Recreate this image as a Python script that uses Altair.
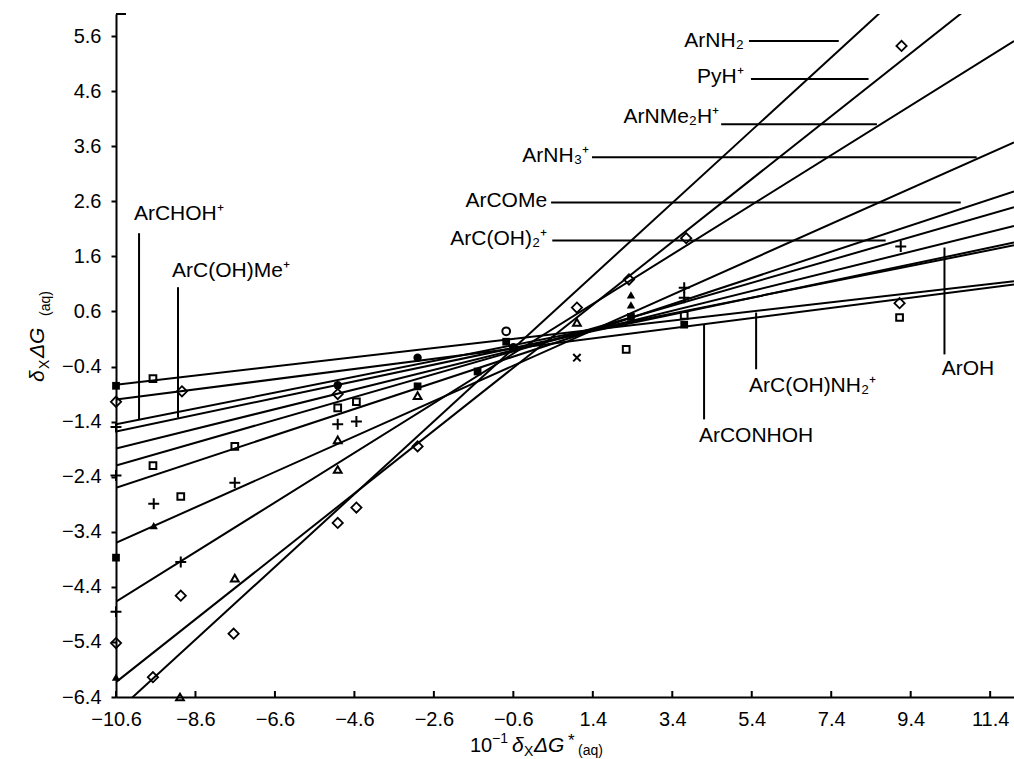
import altair as alt
import pandas as pd

X_MIN, X_MAX = -10.6, 12.0
Y_MIN, Y_MAX = -6.4, 6.0

x_ticks = [-10.6, -8.6, -6.6, -4.6, -2.6, -0.6, 1.4, 3.4, 5.4, 7.4, 9.4, 11.4]
y_ticks = [-6.4, -5.4, -4.4, -3.4, -2.4, -1.4, -0.4, 0.6, 1.6, 2.6, 3.6, 4.6, 5.6]

# regression lines: value at x = X_MIN and at x = X_MAX
line_names = ["ArNH2", "PyH+", "ArNMe2H+", "ArNH3+", "ArCOMe", "ArC(OH)2+",
              "ArOH", "ArCHOH+", "ArC(OH)Me+", "ArC(OH)NH2+", "ArCONHOH"]
line_left = [-6.68, -6.13, -4.67, -3.60, -2.60, -2.20, -1.89, -1.45, -1.58, -0.73, -1.00]
line_right = [8.25, 6.77, 5.51, 3.67, 2.78, 2.49, 2.15, 1.80, 1.85, 1.15, 1.09]

# data points
pt_x = [-10.6, -10.6, -10.6, -10.6, -10.6, -10.6, -10.6, -10.6,
        -9.67, -8.94, -9.67, -9.65, -8.97, -9.65, -7.61, -7.61, -8.97, -7.61,
        -8.97, -7.64, -9.67, -8.99,
        -5.02, -5.02, -5.02, -4.55, -5.02, -4.55, -5.02, -5.02, -5.02, -4.55,
        -3.01, -3.01, -3.01, -3.01, -1.50, -0.78, -0.78, -0.60,
        1.00, 1.00, 1.00, 2.31, 2.36, 2.36, 2.36, 2.24,
        3.70, 3.70, 3.70, 3.70, 3.75, 9.17, 9.15, 9.12, 9.12]
pt_y = [-0.75, -1.04, -1.50, -2.38, -3.87, -4.85, -5.42, -6.04,
        -0.62, -0.85, -2.20, -2.89, -2.76, -3.29, -1.85, -2.51, -3.95, -4.24,
        -4.56, -5.25, -6.04, -6.40,
        -0.74, -0.90, -1.15, -1.04, -1.45, -1.40, -1.73, -2.27, -3.24, -2.96,
        -0.24, -0.76, -0.93, -1.85, -0.49, 0.24, 0.05, -0.05,
        0.67, 0.40, -0.24, 1.18, 0.90, 0.72, 0.50, -0.09,
        1.03, 0.85, 0.53, 0.36, 1.93, 5.42, 1.78, 0.75, 0.49]
pt_sym = ["fsq", "dia", "plus", "plus", "fsq", "plus", "dia", "ftri",
          "sq", "dia", "sq", "plus", "sq", "ftri", "sq", "plus", "plus", "tri",
          "dia", "dia", "dia", "tri",
          "fcirc", "dia", "sq", "sq", "plus", "plus", "tri", "tri", "dia", "dia",
          "fcirc", "fsq", "tri", "dia", "fsq", "ocirc", "fsq", "fcirc",
          "dia", "tri", "x", "dia", "ftri", "ftri", "fsq", "sq",
          "plus", "plus", "sq", "fsq", "dia", "dia", "plus", "dia", "sq"]

# labels
label_text = ["ArNH₂", "PyH⁺", "ArNMe₂H⁺", "ArNH₃⁺", "ArCOMe", "ArC(OH)₂⁺",
              "ArCHOH⁺", "ArC(OH)Me⁺", "ArOH", "ArC(OH)NH₂⁺", "ArCONHOH"]
label_x = [5.20, 5.20, 4.58, 1.31, 0.25, 0.25, -10.15, -9.19, 10.18, 5.33, 4.07]
label_y = [5.51, 4.85, 4.13, 3.42, 2.60, 1.91, 2.36, 1.33, -0.45, -0.76, -1.67]
label_side = ["right", "right", "right", "right", "right", "right",
              "left", "left", "left", "left", "left"]

# leader lines
lead_x1 = [5.33, 5.38, 4.63, 1.38, 0.35, 0.38, -10.02, -9.04, 10.25, 5.51, 4.20]
lead_x2 = [7.59, 8.34, 8.55, 11.06, 10.66, 8.77, -10.02, -9.04, 10.25, 5.51, 4.20]
lead_y1 = [5.51, 4.82, 4.00, 3.40, 2.58, 1.89, 2.02, 1.04, 1.76, 0.58, 0.36]
lead_y2 = [5.51, 4.82, 4.00, 3.40, 2.58, 1.89, -1.36, -1.33, -0.18, -0.45, -1.36]

FONT = "Liberation Sans, Arial, Helvetica, sans-serif"

rows = []
for n, a, b in zip(line_names, line_left, line_right):
    rows.append({"name": n, "x": X_MIN, "y": a})
    rows.append({"name": n, "x": X_MAX, "y": b})
lines_df = pd.DataFrame(rows)
pts_df = pd.DataFrame({"x": pt_x, "y": pt_y, "sym": pt_sym})
lab_df = pd.DataFrame({"t": label_text, "x": label_x, "y": label_y, "side": label_side})
lead_df = pd.DataFrame({"x": lead_x1, "x2": lead_x2, "y": lead_y1, "y2": lead_y2})
xt_df = pd.DataFrame({"t": x_ticks})

xs = alt.Scale(domain=[X_MIN, X_MAX], nice=False, zero=False)
ys = alt.Scale(domain=[Y_MIN, Y_MAX], nice=False, zero=False)

xaxis = alt.Axis(values=x_ticks, format=".1f", tickSize=0, labelPadding=12,
                 domainWidth=2, domainColor="black", labelFontSize=20, labelFont=FONT,
                 labelColor="black", grid=False, title=None, labelFlush=False,
                 labelOverlap=False)
yaxis = alt.Axis(values=y_ticks, format=".1f", tickSize=5, tickWidth=2, tickColor="black",
                 labelPadding=10, domainWidth=2, domainColor="black", labelFontSize=20,
                 labelFont=FONT, labelColor="black", grid=False, title=None,
                 labelFlush=False, labelOverlap=False)

base_lines = alt.Chart(lines_df).mark_line(color="black", strokeWidth=2, clip=True).encode(
    x=alt.X("x:Q", scale=xs, axis=xaxis),
    y=alt.Y("y:Q", scale=ys, axis=yaxis),
    detail="name:N",
)

sym_style = {
    "dia": dict(shape="diamond", size=105, filled=False, strokeWidth=1.8),
    "sq": dict(shape="square", size=45, filled=False, strokeWidth=2),
    "fsq": dict(shape="square", size=60, filled=True),
    "plus": dict(shape="M-1,0L1,0M0,-1L0,1", size=120, filled=False, strokeWidth=2),
    "x": dict(shape="M-1,-1L1,1M-1,1L1,-1", size=55, filled=False, strokeWidth=2),
    "ftri": dict(shape="triangle-up", size=70, filled=True),
    "tri": dict(shape="triangle-up", size=60, filled=False, strokeWidth=2),
    "fcirc": dict(shape="circle", size=70, filled=True),
    "ocirc": dict(shape="circle", size=60, filled=False, strokeWidth=2),
}
point_layers = []
for s, st in sym_style.items():
    point_layers.append(
        alt.Chart(pts_df).transform_filter(alt.datum.sym == s)
        .mark_point(color="black", opacity=1, **st)
        .encode(x=alt.X("x:Q", scale=xs), y=alt.Y("y:Q", scale=ys))
    )

leaders = alt.Chart(lead_df).mark_rule(color="black", strokeWidth=2).encode(
    x=alt.X("x:Q", scale=xs), x2="x2:Q", y=alt.Y("y:Q", scale=ys), y2="y2:Q")

label_layers = []
for side in ["left", "right"]:
    label_layers.append(
        alt.Chart(lab_df).transform_filter(alt.datum.side == side)
        .mark_text(align=side, baseline="middle", font=FONT, fontSize=21, color="black")
        .encode(x=alt.X("x:Q", scale=xs), y=alt.Y("y:Q", scale=ys), text="t:N")
    )

xtick_marks = alt.Chart(xt_df).mark_rule(color="black", strokeWidth=2).encode(
    x=alt.X("t:Q", scale=xs), y=alt.value(683), y2=alt.value(677))
top_stub = alt.Chart(xt_df.head(1)).mark_rule(color="black", strokeWidth=2).encode(
    x=alt.value(0), x2=alt.value(10), y=alt.value(0))

def piece(txt, px, py, size, italic=False, angle=0, align="left"):
    kw = dict(align=align, baseline="alphabetic", font=FONT, fontSize=size, color="black")
    if italic:
        kw["fontStyle"] = "italic"
    if angle:
        kw["angle"] = angle
    return alt.Chart(pd.DataFrame({"t": [txt]})).mark_text(**kw).encode(
        x=alt.value(px), y=alt.value(py), text="t:N")

title_parts = [
    piece("10", 354, 738, 20),
    piece("−1", 376, 729, 14),
    piece("δ", 396, 738, 21, italic=True),
    piece("X", 408, 742, 14),
    piece("ΔG", 418, 738, 21, italic=True),
    piece("*", 452, 732, 17),
    piece("(aq)", 462, 741, 14),
    piece("δ", -72, 368, 21, italic=True, angle=270),
    piece("X", -67, 355, 14, angle=270),
    piece("ΔG", -72, 344, 21, italic=True, angle=270),
    piece("(aq)", -66, 302, 14, angle=270),
]

chart = alt.layer(base_lines, leaders, *point_layers, *label_layers, xtick_marks,
                  top_stub, *title_parts).properties(
    width=898, height=683, autosize="none",
    padding={"left": 116, "top": 14, "right": 0, "bottom": 62},
).configure_view(stroke=None)

chart.save("out.html", embed_options={"renderer": "svg", "actions": False})
